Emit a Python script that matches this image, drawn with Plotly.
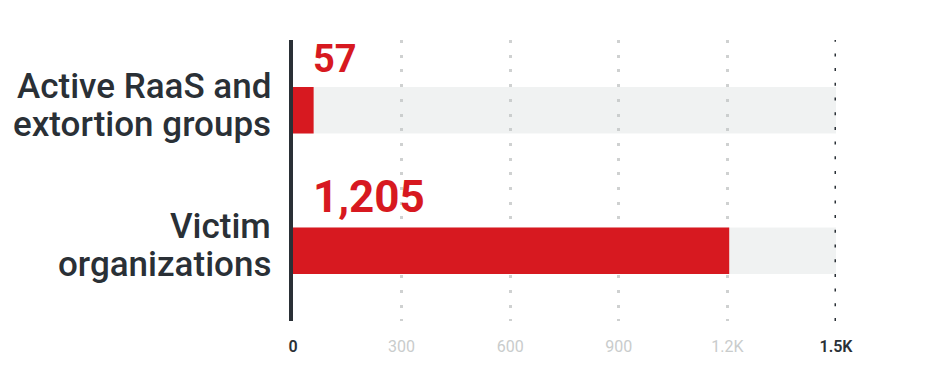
import plotly.graph_objects as go

categories = ["Active RaaS and extortion groups", "Victim organizations"]
category_lines = [["Active RaaS and", "extortion groups"], ["Victim", "organizations"]]
values = [57, 1205]
scale_max = [1500, 1500]
tick_vals = [0, 300, 600, 900, 1200, 1500]
tick_labels = ["0", "300", "600", "900", "1.2K", "1.5K"]

RED = "#d71920"
DARK = "#2a3036"
LIGHT = "#c9cccc"
FONT = "Roboto"

fig = go.Figure()
fig.add_trace(go.Bar(
    y=categories, x=scale_max, orientation="h", width=0.33,
    marker=dict(color="rgba(190,197,197,0.23)", line=dict(width=0)),
    hoverinfo="skip", showlegend=False,
))
fig.add_trace(go.Bar(
    y=categories, x=values, orientation="h", width=0.33,
    marker=dict(color=RED, line=dict(width=0)),
    showlegend=False,
))

ticktext = []
for i, t in enumerate(tick_labels):
    if i == 0 or i == len(tick_labels) - 1:
        ticktext.append(f'<span style="color:{DARK};font-weight:600">{t}</span>')
    else:
        ticktext.append(f'<span style="color:{LIGHT}">{t}</span>')

fig.update_layout(
    template="none",
    width=936, height=387,
    margin=dict(l=293, r=100, t=40, b=66, pad=0),
    paper_bgcolor="white", plot_bgcolor="white",
    barmode="overlay",
    font=dict(family=FONT, color=DARK),
    xaxis=dict(
        range=[0, 1500], tickvals=tick_vals, ticktext=ticktext, automargin=False,
        showgrid=True, gridcolor="#cfd1d1", gridwidth=3, griddash="3px,11.7px",
        zeroline=False, showline=False, ticks="", ticklabelstandoff=14,
        tickfont=dict(family=FONT, size=16, color=DARK),
        fixedrange=True,
    ),
    yaxis=dict(
        type="category", range=[1.5, -0.5], automargin=False,
        showticklabels=False, showgrid=False, zeroline=False,
        showline=True, linecolor=DARK, linewidth=4, ticks="",
        fixedrange=True,
    ),
)

# dark dotted line at the scale maximum
fig.add_shape(type="line", xref="x", yref="paper", x0=tick_vals[-1], x1=tick_vals[-1], y0=0, y1=1,
              line=dict(color=DARK, width=3, dash="3px,11.7px"), layer="above")

annotations = []
for cat, lines in zip(categories, category_lines):
    annotations.append(dict(xref="paper", yref="y", x=0, y=cat, xanchor="right", yanchor="middle",
                            xshift=-20, yshift=24, text=lines[0], showarrow=False,
                            font=dict(family=FONT, size=35, color=DARK, weight=500)))
    annotations.append(dict(xref="paper", yref="y", x=0, y=cat, xanchor="right", yanchor="middle",
                            xshift=-20, yshift=-14, text=lines[1], showarrow=False,
                            font=dict(family=FONT, size=35, color=DARK, weight=500)))

sizes = [38, 44]
shifts = [51, 54]
for cat, v, s, sh in zip(categories, values, sizes, shifts):
    annotations.append(dict(xref="x", yref="y", x=0, y=cat, xanchor="left", yanchor="middle",
                            xshift=18, yshift=sh, text=f"{v:,}", showarrow=False,
                            font=dict(family=FONT, size=s, color=RED, weight=700)))

fig.update_layout(annotations=annotations)
fig.write_html("out.html")
